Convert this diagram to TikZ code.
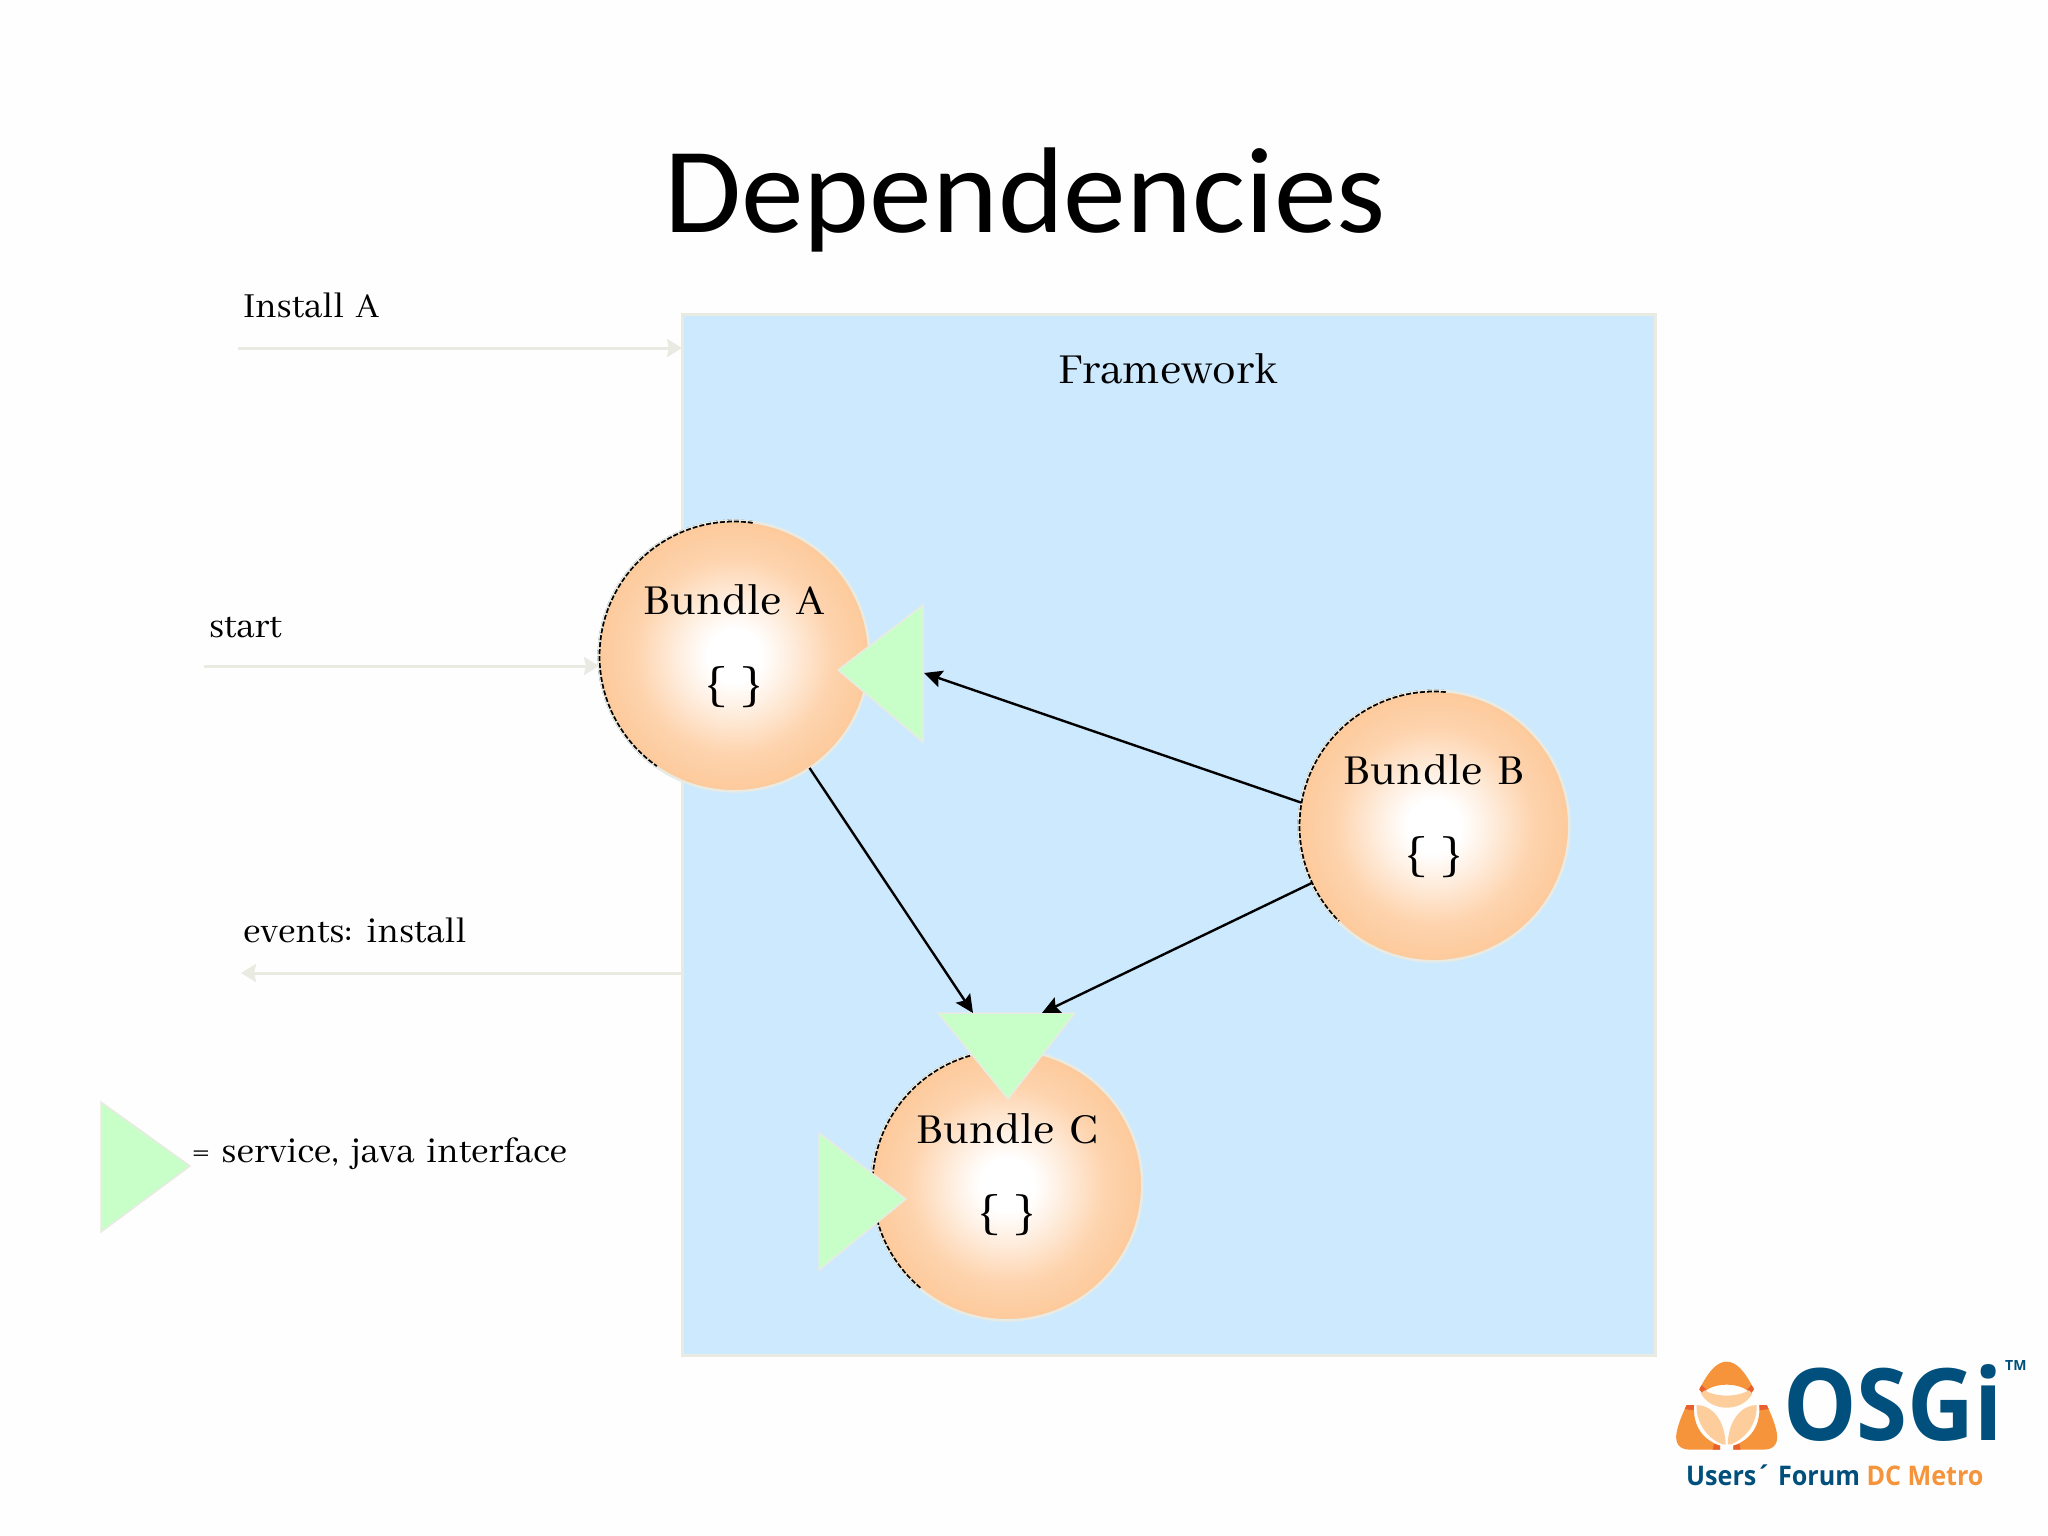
\documentclass[tikz,border=0pt]{standalone}
\usepackage{fontspec}
\setmainfont{Abhaya Libre}[WordSpace=1.6]
\newfontfamily\titlefont{Carlito}
\newfontfamily\logofont{Open Sans}
\usetikzlibrary{arrows.meta}
\definecolor{framefill}{HTML}{CCE9FE}
\definecolor{softedge}{HTML}{E9EAE2}
\definecolor{bundleorange}{HTML}{FDC898}
\definecolor{svcgreen}{HTML}{C8FFC8}
\definecolor{osgiblue}{HTML}{004F7C}
\definecolor{osgiorange}{HTML}{F5943A}
\definecolor{osgipale}{HTML}{FDCD9C}
\definecolor{osgired}{HTML}{E9602E}
\pgfdeclareradialshading{bundleglow}{\pgfpoint{0bp}{0bp}}{color(0bp)=(white); color(5bp)=(white); color(11bp)=(bundleorange!35!white); color(18bp)=(bundleorange!78!white); color(26bp)=(bundleorange); color(50bp)=(bundleorange)}
\tikzset{
  x=1pt,y=-1pt,
  label text/.style={anchor=base,inner sep=0pt,outer sep=0pt,font=\fontsize{47}{54}\selectfont},
  brace text/.style={anchor=base,inner sep=0pt,outer sep=0pt,font=\fontsize{54}{60}\selectfont},
  side text/.style={anchor=base west,inner sep=0pt,outer sep=0pt,font=\fontsize{38.7}{46}\selectfont},
  bundle/.style={circle,minimum size=270pt,inner sep=0pt,outer sep=0pt,shade,shading=bundleglow,draw=softedge,line width=2pt},
  peek/.style={black,line width=2.8pt,dash pattern=on 5pt off 2pt},
  service/.style={fill=svcgreen,draw=softedge,line width=1.5pt,line join=miter},
  depend/.style={black,line width=2.4pt,-{Stealth[length=18pt,width=17pt,inset=3pt]}},
  lifecycle/.style={softedge,line width=3pt,-{Stealth[length=15pt,width=18pt,inset=2pt]}},
}
\begin{document}
\begin{tikzpicture}
\useasboundingbox (0,0) rectangle (2048,1536);
\fill[white!99.5!black] (0,0) rectangle (2048,1536);
\node[anchor=base,inner sep=0pt,transform shape,xscale=1.028,font=\titlefont\fontsize{122}{130}\selectfont] (title) at (1025,232) {Dependencies};

% framework
\node[anchor=north west,minimum width=973pt,minimum height=1041pt,inner sep=0pt,outer sep=0pt,fill=framefill,draw=softedge,line width=3pt] (frame) at (682,314) {};
\node[label text] (framelabel) at (1168,383) {Framework};

% bundles
\node[bundle] (bundleA) at (734,656) {};
\node[bundle] (bundleB) at (1434,826) {};
\node[bundle] (bundleC) at (1007,1185) {};
\draw[peek] (bundleA.82) arc[start angle=82,end angle=235,radius=135pt];
\draw[peek] (bundleB.85) arc[start angle=85,end angle=225,radius=135pt];
\draw[peek] (bundleC.100) arc[start angle=100,end angle=230,radius=135pt];
\foreach \b in {bundleA,bundleB,bundleC}{
  \draw[softedge,line width=1.2pt] (\b.center) ++(136pt,0pt) arc[start angle=0,end angle=360,radius=136pt];
}

% service triangles
\draw[service] (923,605) -- (838,670) -- (923,742) -- cycle;
\draw[service] (938,1013) -- (1075,1013) -- (1008,1099) -- cycle;
\draw[service] (819,1133) -- (906,1199) -- (819,1270) -- cycle;
\draw[service] (101,1102) -- (190,1166) -- (101,1232) -- cycle;

% dependencies
\coordinate (svcA) at (924,673);
\coordinate (svcCa) at (973,1013);
\coordinate (svcCb) at (1042,1013);
\draw[depend] (bundleB.170.5) -- (svcA);
\draw[depend] (bundleB.205) -- (svcCb);
\draw[depend] (bundleA.-56.5) -- (svcCa);

% lifecycle arrows
\coordinate (installstart) at (238,348);
\coordinate (startstart) at (204,666);
\coordinate (eventsend) at (241,973);
\draw[lifecycle] (installstart) -- (frame.west |- installstart);
\draw[lifecycle] (startstart) -- (bundleA.west |- startstart);
\draw[lifecycle] (frame.west |- eventsend) -- (eventsend);

% texts
\node[side text] (installlabel) at (243,317) {Install A};
\node[side text] (startlabel) at (209,637) {start};
\node[side text] (eventslabel) at (243,942) {events: install};
\node[side text] (legendlabel) at (192,1162) {= service, java interface};
\node[label text] (nameA) at (734,614) {Bundle A};
\node[label text] (nameB) at (1434,784) {Bundle B};
\node[label text] (nameC) at (1007,1143) {Bundle C};
\node[brace text] (bodyA) at (734,700) {\{ \}};
\node[brace text] (bodyB) at (1434,870) {\{ \}};
\node[brace text] (bodyC) at (1007,1228) {\{ \}};

% logo
\begin{scope}[shift={(1670,1355)},x=0.3333pt,y=-0.3333pt]
  \foreach \m in {1,-1}{
    \begin{scope}[xshift=56.67pt,xscale=\m,xshift=-56.67pt]
      \fill[osgiorange] (50,150) -- (72,150) .. controls (68,215) and (100,255) .. (150,272) -- (150,284) -- (60,284) .. controls (25,284) and (14,262) .. (20,232) .. controls (25,205) and (38,175) .. (50,150) -- cycle;
      \fill[osgired] (50,150) -- (72,150) -- (71,166) -- (44,162) -- cycle;
      \fill[osgired] (150,272) -- (150,284) -- (128,284) -- (132,267) -- cycle;
      \fill[osgipale] (80,150) .. controls (125,150) and (165,195) .. (167,268) -- (157,268) .. controls (112,250) and (78,205) .. (80,150) -- cycle;
    \end{scope}
  }
  \fill[osgiorange] (88,103) .. controls (115,50) and (140,20) .. (170,20) .. controls (200,20) and (225,50) .. (252,103) -- (242,116) .. controls (215,80) and (125,80) .. (98,116) -- cycle;
  \fill[osgired] (88,103) -- (95,90) -- (108,103) -- (98,116) -- cycle;
  \fill[osgired] (252,103) -- (245,90) -- (232,103) -- (242,116) -- cycle;
  \fill[osgipale] (103,106) .. controls (140,127) and (200,127) .. (237,106) -- (247,116) .. controls (215,172) and (125,172) .. (93,116) -- cycle;
\end{scope}
\node[anchor=base west,inner sep=0pt,text=osgiblue,transform shape,xscale=.925,font=\logofont\bfseries\fontsize{100}{100}\selectfont] (osgi) at (1783,1440) {OSGi};
\node[anchor=base west,inner sep=0pt,text=osgiblue,font=\logofont\bfseries\fontsize{14}{14}\selectfont] (tm) at (2005,1370) {TM};
\node[anchor=base west,inner sep=0pt,transform shape,xscale=.93,font=\logofont\bfseries\fontsize{27}{27}\selectfont] (forum) at (1686,1485) {\textcolor{osgiblue}{Users´ Forum} \textcolor{osgiorange}{DC Metro}};
\end{tikzpicture}
\end{document}
